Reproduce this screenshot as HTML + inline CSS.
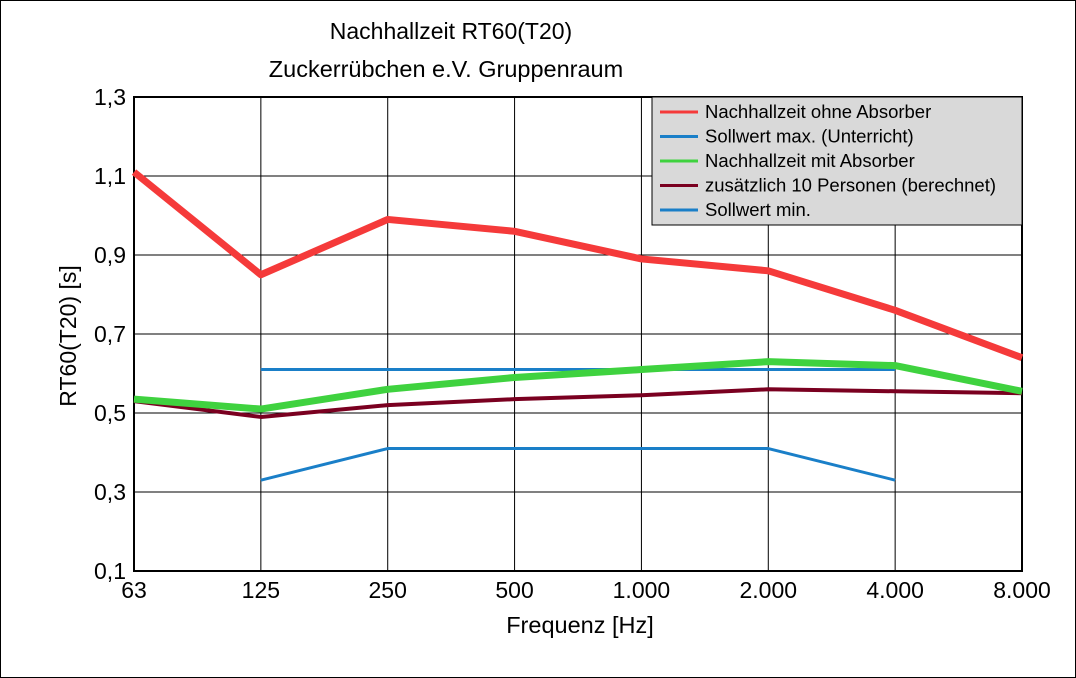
<!DOCTYPE html>
<html><head><meta charset="utf-8"><style>
html,body{margin:0;padding:0;background:#fff}
svg{display:block;font-family:"Liberation Sans",sans-serif}
</style></head><body>
<svg width="1076" height="678" viewBox="0 0 1076 678">
<rect x="0.5" y="0.5" width="1075" height="677" fill="#fff" stroke="#000"/>
<text x="451" y="39" font-size="23" text-anchor="middle">Nachhallzeit RT60(T20)</text>
<text x="446" y="77" font-size="23.5" text-anchor="middle">Zuckerrübchen e.V. Gruppenraum</text>
<g id="grid"></g>
<g id="series"></g>
<g id="legend"></g>
<text x="580" y="633" font-size="23.5" text-anchor="middle">Frequenz [Hz]</text>
<text transform="translate(76,336) rotate(-90)" font-size="23" text-anchor="middle">RT60(T20) [s]</text>
</svg>
<script>
const categories=["63","125","250","500","1.000","2.000","4.000","8.000"];
const yTicks=[0.1,0.3,0.5,0.7,0.9,1.1,1.3];
const yTickLabels=["0,1","0,3","0,5","0,7","0,9","1,1","1,3"];
const ohneAbsorber=[1.11,0.85,0.99,0.96,0.89,0.86,0.76,0.64];
const sollMax=[null,0.61,0.61,0.61,0.61,0.61,0.61,null];
const mitAbsorber=[0.535,0.51,0.56,0.59,0.61,0.63,0.62,0.555];
const personen=[0.53,0.49,0.52,0.535,0.545,0.56,0.555,0.55];
const sollMin=[null,0.33,0.41,0.41,0.41,0.41,0.33,null];
const seriesNames=["Nachhallzeit ohne Absorber","Sollwert max. (Unterricht)","Nachhallzeit mit Absorber","zusätzlich 10 Personen (berechnet)","Sollwert min."];

const NS="http://www.w3.org/2000/svg";
const L=134,R=1022,T=97,B=571,yMin=0.1,yMax=1.3;
const xS=i=>L+i*(R-L)/(categories.length-1);
const yS=v=>B-(v-yMin)/(yMax-yMin)*(B-T);
function mk(tag,attrs,parent){const e=document.createElementNS(NS,tag);for(const k in attrs)e.setAttribute(k,attrs[k]);parent.appendChild(e);return e;}
const grid=document.getElementById('grid');
yTicks.forEach((v,i)=>{
 const l=mk('line',{x1:L,x2:R,y1:yS(v),y2:yS(v),stroke:'#000','stroke-width':1},grid);
 
 
 const t=mk('text',{x:L-8,y:yS(v)+8,'font-size':23,'text-anchor':'end'},grid);
 t.textContent=yTickLabels[i];
 
 
});
categories.forEach((c,i)=>{
 const l=mk('line',{x1:xS(i),x2:xS(i),y1:T,y2:B,stroke:'#000','stroke-width':1},grid);
 
 
 const t=mk('text',{x:xS(i),y:B+27,'font-size':23,'text-anchor':'middle'},grid);
 t.textContent=c;
 
 
});
const pa=mk('rect',{x:L,y:T,width:R-L,height:B-T,fill:'none',stroke:'#000','stroke-width':2},grid);


const sg=document.getElementById('series');
function line(data,color,w,name){
 let d='',pen=false;
 data.forEach((v,i)=>{if(v==null){pen=false;return;}d+=(pen?'L':'M')+xS(i)+','+yS(v);pen=true;});
 const p=mk('path',{d:d,fill:'none',stroke:color,'stroke-width':w,'stroke-linejoin':'round'},sg);
 
 
}
line(sollMin,'#1a7fc8',3,'series-sollwert-min');
line(sollMax,'#1a7fc8',3,'series-sollwert-max');
line(personen,'#7a0020',4,'series-personen');
line(mitAbsorber,'#3fd23f',7,'series-mit-absorber');
line(ohneAbsorber,'#f53a3a',7,'series-ohne-absorber');
const lg=document.getElementById('legend');
const box=mk('rect',{x:652,y:97,width:370,height:128,fill:'#d9d9d9',stroke:'#000','stroke-width':1},lg);


const lc=['#f53a3a','#1a7fc8','#3fd23f','#7a0020','#1a7fc8'];
seriesNames.forEach((n,i)=>{
 const y=112+i*24.5;
 const s=mk('line',{x1:660,x2:698,y1:y,y2:y,stroke:lc[i],'stroke-width':3},lg);
 
 
 const t=mk('text',{x:705,y:y+6,'font-size':18.5},lg);
 t.textContent=n;
 
 
});
</script>
</body></html>
